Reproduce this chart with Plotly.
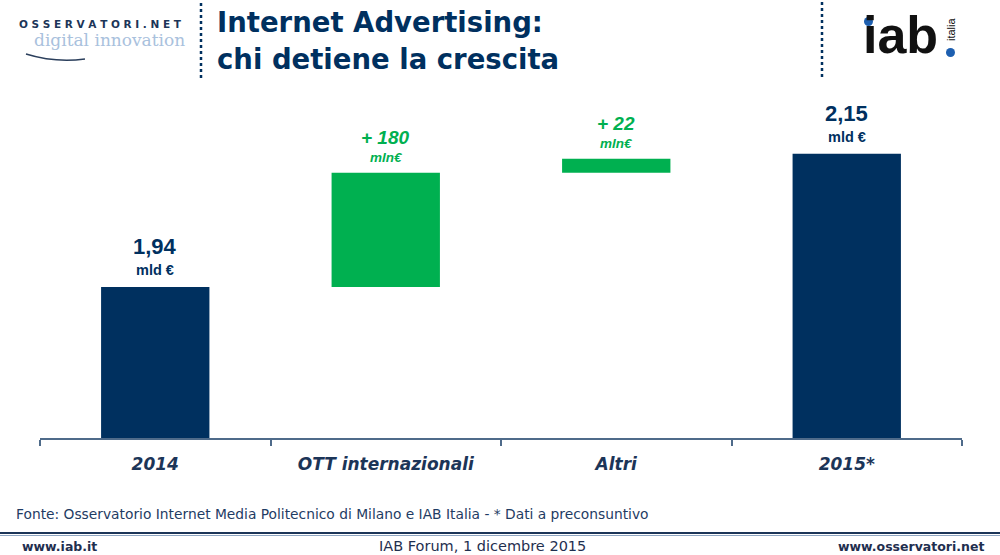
import plotly.graph_objects as go

categories = ["2014", "OTT internazionali", "Altri", "2015*"]
values = [1.94, 0.18, 0.022, 2.15]
kinds = ["total", "delta", "delta", "total"]
value_labels = ["1,94", "+ 180", "+ 22", "2,15"]
unit_labels = ["mld €", "mln€", "mln€", "mld €"]

NAVY = "#00305F"
GREEN = "#00B050"
AXIS = "#4F6B8A"

bases, tops = [], []
running = 0.0
for v, k in zip(values, kinds):
    if k == "total":
        b = 0.0
        running = v
        t = v
    else:
        b = running
        running = running + v
        t = running
    bases.append(b)
    tops.append(t)

colors = [NAVY if k == "total" else GREEN for k in kinds]
idx = list(range(len(categories)))

fig = go.Figure()
fig.add_trace(go.Bar(
    x=categories, y=values, base=bases,
    marker=dict(color=colors, line=dict(width=0)),
    width=0.47, hoverinfo="skip",
))

ticktext = ["<b><i>%s</i></b>" % c for c in categories]

annotations = []
for i, t, k, vl, ul in zip(idx, tops, kinds, value_labels, unit_labels):
    if k == "total":
        annotations.append(dict(x=i, y=t, xref="x", yref="y", text="<b>%s</b>" % vl,
                                showarrow=False, yanchor="bottom", yshift=26,
                                font=dict(family="Liberation Sans", size=22, color=NAVY)))
        annotations.append(dict(x=i, y=t, xref="x", yref="y", text="<b>%s</b>" % ul,
                                showarrow=False, yanchor="bottom", yshift=7,
                                font=dict(family="Liberation Sans", size=14.5, color=NAVY)))
    else:
        annotations.append(dict(x=i, y=t, xref="x", yref="y", text="<b><i>%s</i></b>" % vl,
                                showarrow=False, yanchor="bottom", yshift=23,
                                font=dict(family="Liberation Sans", size=19, color=GREEN)))
        annotations.append(dict(x=i, y=t, xref="x", yref="y", text="<b><i>%s</i></b>" % ul,
                                showarrow=False, yanchor="bottom", yshift=6,
                                font=dict(family="Liberation Sans", size=13.5, color=GREEN)))

header = [
    dict(text="<b>Internet Advertising:</b>", x=215, y=22, font=dict(family="DejaVu Sans", size=27.5, color=NAVY), xanchor="left"),
    dict(text="<b>chi detiene la crescita</b>", x=215, y=59, font=dict(family="DejaVu Sans", size=27.5, color=NAVY), xanchor="left"),
    dict(text="<b>O S S E R V A T O R I . N E T</b>", x=17, y=24, font=dict(family="DejaVu Sans", size=10.5, color="#1C3558"), xanchor="left"),
    dict(text="digital innovation", x=32, y=40, font=dict(family="DejaVu Serif", size=17, color="#A9C1DD"), xanchor="left"),
    dict(text="<b>iab</b>", x=900, y=35, font=dict(family="Liberation Sans", size=52, color="#111111"), xanchor="center"),
    dict(text="italia", x=951, y=29, font=dict(family="Liberation Sans", size=11, color="#111111"), xanchor="center", textangle=-90),
    dict(text="Fonte: Osservatorio Internet Media Politecnico di Milano e IAB Italia - * Dati a preconsuntivo", x=14, y=514, font=dict(family="DejaVu Sans", size=13.8, color="#1F3C64"), xanchor="left"),
    dict(text="<b>www.iab.it</b>", x=20, y=546, font=dict(family="DejaVu Sans", size=12.5, color="#1F2F4F"), xanchor="left"),
    dict(text="IAB Forum, 1 dicembre 2015", x=482, y=546, font=dict(family="DejaVu Sans", size=14.5, color="#1F2F4F"), xanchor="center"),
    dict(text="<b>www.osservatori.net</b>", x=986, y=546, font=dict(family="DejaVu Sans", size=12.5, color="#1F2F4F"), xanchor="right"),
]

W, H = 1000, 555
L, R, T, B = 40, 38, 100, 117
pw, ph = W - L - R, H - T - B
for h in header:
    xp, yp = h.pop("x"), h.pop("y")
    annotations.append(dict(x=(xp - L) / pw, y=(H - B - yp) / ph, xref="paper", yref="paper",
                            showarrow=False, yanchor="middle", **h))

def sx(xp):
    return (xp - L) / pw

def sy(yp):
    return (H - B - yp) / ph

shapes = [
    dict(type="line", xref="paper", yref="paper", x0=sx(201), x1=sx(201), y0=sy(3), y1=sy(80),
         line=dict(color=NAVY, width=2.5, dash="3px,3px")),
    dict(type="line", xref="paper", yref="paper", x0=sx(822), x1=sx(822), y0=sy(2), y1=sy(78),
         line=dict(color=NAVY, width=2.5, dash="3px,3px")),
    dict(type="line", xref="paper", yref="paper", x0=sx(0), x1=sx(1000), y0=sy(533), y1=sy(533),
         line=dict(color="#1C3558", width=2)),
    dict(type="line", xref="paper", yref="paper", x0=sx(0), x1=sx(1000), y0=sy(535.5), y1=sy(535.5),
         line=dict(color="#8FA6C2", width=1)),
    dict(type="circle", xref="paper", yref="paper", x0=sx(864), x1=sx(873), y0=sy(17), y1=sy(26),
         fillcolor="#1D5FB0", line=dict(width=0)),
    dict(type="circle", xref="paper", yref="paper", x0=sx(946), x1=sx(955), y0=sy(48), y1=sy(57),
         fillcolor="#1D5FB0", line=dict(width=0)),
    dict(type="path", xref="paper", yref="paper",
         path="M %f %f Q %f %f %f %f" % (sx(26), sy(54), sx(55), sy(63), sx(85), sy(59)),
         line=dict(color="#2B3F5C", width=1.5)),
]

px_per_unit = 635.0
y_bottom = values[0] - (438 - 287) / px_per_unit
y_top = y_bottom + ph / px_per_unit

fig.update_layout(
    width=W, height=H,
    margin=dict(l=L, r=R, t=T, b=B, autoexpand=False),
    paper_bgcolor="white", plot_bgcolor="white",
    showlegend=False,
    bargap=0.53,
    xaxis=dict(
        type="category", range=[-0.5, len(categories) - 0.5],
        tickmode="array", tickvals=categories, ticktext=ticktext,
        tickfont=dict(family="DejaVu Sans", size=17, color="#1C3558"),
        tickangle=0, automargin=False, ticklabelstandoff=10,
        showline=True, linecolor=AXIS, linewidth=2,
        ticks="outside", tickson="boundaries", ticklen=6, tickcolor=AXIS, tickwidth=2,
        showgrid=False, zeroline=False, fixedrange=True,
    ),
    yaxis=dict(range=[y_bottom, y_top], visible=False, showgrid=False, zeroline=False, fixedrange=True),
    annotations=annotations,
    shapes=shapes,
)

fig.write_html("out.html", config={"displayModeBar": False},
               post_script="document.body.style.margin='0px';")
